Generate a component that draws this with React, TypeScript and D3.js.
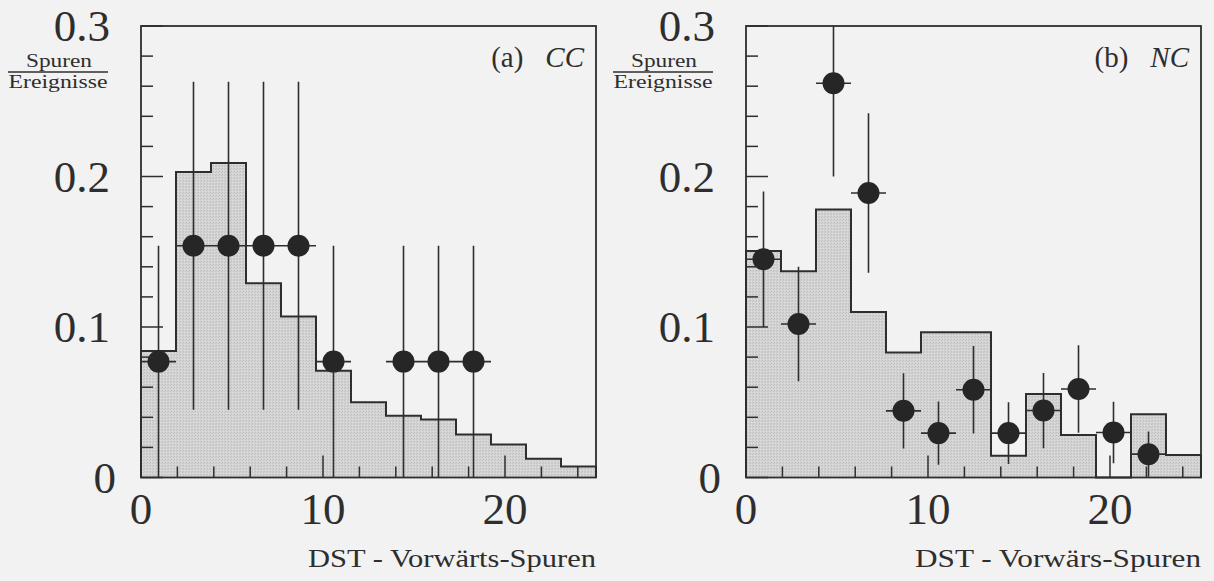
import React from "react";
import * as d3 from "d3";

// Shared binning of the forward-track multiplicity (13 equal bins over 0..25)
const binEdges = [0, 1.923, 3.846, 5.769, 7.692, 9.615, 11.538, 13.462, 15.385, 17.308, 19.231, 21.154, 23.077, 25];

// (a) CC: simulated distribution and measured points
const ccHist = [0.084, 0.203, 0.209, 0.129, 0.107, 0.071, 0.05, 0.041, 0.0385, 0.0285, 0.022, 0.0125, 0.0073];
const ccBins = [0, 1, 2, 3, 4, 5, 7, 8, 9];
const ccY = [0.077, 0.154, 0.154, 0.154, 0.154, 0.077, 0.077, 0.077, 0.077];
const ccErr = [0.077, 0.109, 0.109, 0.109, 0.109, 0.077, 0.077, 0.077, 0.077];

// (b) NC: simulated distribution and measured points
const ncHist = [0.1505, 0.137, 0.178, 0.11, 0.083, 0.0965, 0.0965, 0.0145, 0.0555, 0.0283, 0, 0.042, 0.015];
const ncBins = [0, 1, 2, 3, 4, 5, 6, 7, 8, 9, 10, 11];
const ncY = [0.145, 0.102, 0.262, 0.189, 0.0443, 0.0295, 0.0583, 0.0295, 0.0445, 0.0588, 0.0299, 0.0155];
const ncErr = [0.045, 0.038, 0.062, 0.053, 0.025, 0.021, 0.029, 0.0205, 0.025, 0.029, 0.0205, 0.015];

const xMajorTicks = [0, 10, 20];
const xMinorTicks = [2, 4, 6, 8, 12, 14, 16, 18, 22, 24];
const yMajorTicks = [0, 0.1, 0.2, 0.3];
const yMinorTicks = [0.02, 0.04, 0.06, 0.08, 0.12, 0.14, 0.16, 0.18, 0.22, 0.24, 0.26, 0.28];
const yTickLabels = ["0", "0.1", "0.2", "0.3"];
const xTickLabels = ["0", "10", "20"];

const INK = "#2e2e2e";
const BG = "#f2f2f2";
const serif: React.CSSProperties = { fontFamily: '"Liberation Serif"' };

const TOP = 26;
const BOTTOM = 477.5;
const WIDTH = 455;

type PanelProps = {
  id: string;
  left: number;
  hist: number[];
  bins: number[];
  ys: number[];
  errs: number[];
  tag: string;
  proc: string;
  xTitle: string;
  xTitleWidth: number;
};

function Panel({ id, left, hist, bins, ys, errs, tag, proc, xTitle, xTitleWidth }: PanelProps) {
  const x = d3.scaleLinear().domain([0, 25]).range([left, left + WIDTH]);
  const y = d3.scaleLinear().domain([0, 0.3]).range([BOTTOM, TOP]);

  const steps: [number, number][] = [[0, 0]];
  hist.forEach((v, i) => {
    steps.push([binEdges[i], v]);
    steps.push([binEdges[i + 1], v]);
  });
  steps.push([25, 0]);

  const area = d3
    .area<[number, number]>()
    .x((d) => x(d[0]))
    .y0(y(0))
    .y1((d) => y(d[1]));
  const line = d3
    .line<[number, number]>()
    .x((d) => x(d[0]))
    .y((d) => y(d[1]));

  const clipId = `clip-${id}`;

  return (
    <g>
      <defs>
        <clipPath id={clipId}>
          <rect x={left} y={TOP} width={WIDTH} height={BOTTOM - TOP} />
        </clipPath>
      </defs>

      {/* simulated histogram */}
      <path d={area(steps) ?? ""} fill="url(#stipple)" />
      <path d={line(steps) ?? ""} fill="none" stroke={INK} strokeWidth={2} />

      {/* measured points with error bars */}
      <g clipPath={`url(#${clipId})`}>
        {bins.map((b, i) => {
          const x0 = binEdges[b];
          const x1 = binEdges[b + 1];
          const cx = x((x0 + x1) / 2);
          const cy = y(ys[i]);
          return (
            <g key={i}>
              <line x1={cx} x2={cx} y1={y(ys[i] + errs[i])} y2={y(Math.max(0, ys[i] - errs[i]))} stroke={INK} strokeWidth={1.6} />
              <line x1={x(x0)} x2={x(x1)} y1={cy} y2={cy} stroke={INK} strokeWidth={1.6} />
              <circle cx={cx} cy={cy} r={11} fill="#262626" />
            </g>
          );
        })}
      </g>

      {/* frame */}
      <rect x={left} y={TOP} width={WIDTH} height={BOTTOM - TOP} fill="none" stroke={INK} strokeWidth={1.8} />

      {/* y ticks */}
      {yMajorTicks.map((t) => (
        <line key={`ym${t}`} x1={left} x2={left + 22} y1={y(t)} y2={y(t)} stroke={INK} strokeWidth={1.5} />
      ))}
      {yMinorTicks.map((t) => (
        <line key={`yn${t}`} x1={left} x2={left + 12} y1={y(t)} y2={y(t)} stroke={INK} strokeWidth={1.5} />
      ))}
      {/* x ticks */}
      {xMajorTicks.map((t) => (
        <line key={`xm${t}`} x1={x(t)} x2={x(t)} y1={BOTTOM} y2={BOTTOM - 22} stroke={INK} strokeWidth={1.5} />
      ))}
      {xMinorTicks.map((t) => (
        <line key={`xn${t}`} x1={x(t)} x2={x(t)} y1={BOTTOM} y2={BOTTOM - 11} stroke={INK} strokeWidth={1.5} />
      ))}

      {/* tick labels */}
      {yMajorTicks.map((t, i) => (
        <text key={`yl${t}`} x={left - (t === 0 ? 25 : 31)} y={y(t) + 15} textAnchor="end" fontSize={45} fill={INK} style={serif}>
          {yTickLabels[i]}
        </text>
      ))}
      {xMajorTicks.map((t, i) => (
        <text key={`xl${t}`} x={x(t)} y={BOTTOM + 46} textAnchor="middle" fontSize={45} fill={INK} style={serif}>
          {xTickLabels[i]}
        </text>
      ))}

      {/* y-axis quantity as a fraction */}
      <text x={left - 82} y={67} textAnchor="middle" fontSize={19} fill={INK} style={serif} textLength={66} lengthAdjust="spacingAndGlyphs">
        Spuren
      </text>
      <line x1={left - 133} x2={left - 33} y1={72} y2={72} stroke={INK} strokeWidth={1.3} />
      <text x={left - 83} y={88} textAnchor="middle" fontSize={19} fill={INK} style={serif} textLength={99} lengthAdjust="spacingAndGlyphs">
        Ereignisse
      </text>

      {/* panel tag */}
      <text x={left + WIDTH - 12} y={67} textAnchor="end" fontSize={29} fill={INK} style={serif}>
        <tspan>{tag}</tspan>
        <tspan dx={22} fontStyle="italic">{proc}</tspan>
      </text>

      {/* x-axis title */}
      <text x={left + WIDTH} y={567} textAnchor="end" fontSize={26} fill={INK} style={serif} textLength={xTitleWidth} lengthAdjust="spacingAndGlyphs">
        {xTitle}
      </text>
    </g>
  );
}

export default function App() {
  return (
    <svg
      width={1214}
      height={581}
      style={{ position: "absolute", left: 0, top: 0, background: BG }}
    >
      <defs>
        <pattern id="stipple" width={3} height={3} patternUnits="userSpaceOnUse">
          <rect width={3} height={3} fill="#d3d3d3" />
          <rect x={0} y={0} width={1} height={1} fill="#bdbdbd" />
          <rect x={2} y={1} width={1} height={1} fill="#c4c4c4" />
          <rect x={1} y={2} width={1} height={1} fill="#e0e0e0" />
        </pattern>
      </defs>
      <rect width={1214} height={581} fill={BG} />
      <Panel id="cc" left={141} hist={ccHist} bins={ccBins} ys={ccY} errs={ccErr} tag="(a)" proc="CC" xTitle="DST - Vorwärts-Spuren" xTitleWidth={288} />
      <Panel id="nc" left={746} hist={ncHist} bins={ncBins} ys={ncY} errs={ncErr} tag="(b)" proc="NC" xTitle="DST - Vorwärs-Spuren" xTitleWidth={286} />
    </svg>
  );
}
